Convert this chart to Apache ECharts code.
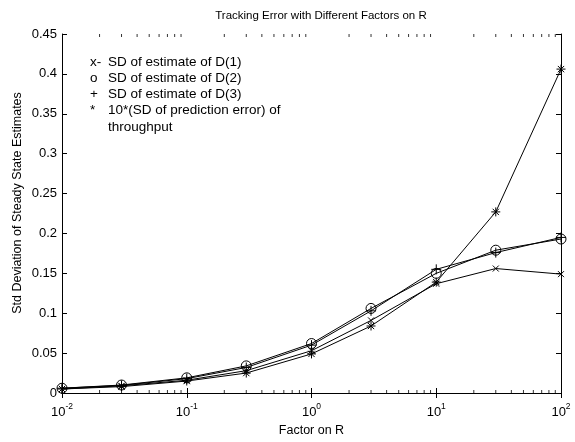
<!DOCTYPE html>
<html>
<head>
<meta charset="utf-8">
<script src="https://cdn.jsdelivr.net/npm/echarts@6/dist/echarts.min.js"></script>
<style>
  html, body { margin: 0; padding: 0; background: #fff; }
  #chart { width: 575px; height: 442px; }
</style>
</head>
<body>
<div id="chart"></div>
<script>
const factors = [0.01, 0.03, 0.1, 0.3, 1, 3, 10, 30, 100];
const sdD1 = [0.005, 0.009, 0.016, 0.028, 0.053, 0.091, 0.137, 0.156, 0.149];
const sdD2 = [0.006, 0.010, 0.019, 0.034, 0.062, 0.106, 0.150, 0.179, 0.193];
const sdD3 = [0.006, 0.0095, 0.018, 0.032, 0.060, 0.103, 0.155, 0.176, 0.195];
const sdThroughput = [0.005, 0.008, 0.015, 0.025, 0.049, 0.084, 0.139, 0.227, 0.406];
const legendLines = [
  ['x-', 'SD of estimate of D(1)'],
  ['o', 'SD of estimate of D(2)'],
  ['+', 'SD of estimate of D(3)'],
  ['*', '10*(SD of prediction error) of'],
  ['', 'throughput']
];
// minor log ticks 2..9 per decade
const minorTicks = [];
for (let e = -2; e < 2; e++) {
  for (let m = 2; m <= 9; m++) minorTicks.push(+(m * Math.pow(10, e)).toPrecision(3));
}

const FONT = 'Liberation Sans, Arial, sans-serif';
const chart = echarts.init(document.getElementById('chart'));

const pair = (ys) => factors.map((x, i) => [x, ys[i]]);
const lineSeries = (name, ys, symbol, size) => ({
  name, type: 'line', data: pair(ys), symbol, symbolSize: size,
  lineStyle: { color: '#000', width: 1 },
  itemStyle: { color: 'none', borderColor: '#000', borderWidth: 1 },
  emphasis: { disabled: true },
  animation: false
});

const xAxisBase = {
  type: 'log', min: 0.01, max: 100, logBase: 10,
  axisLine: { show: true, lineStyle: { color: '#000', width: 1 } },
  axisTick: { show: true, inside: true, length: 5, lineStyle: { color: '#000' } },
  splitLine: { show: false }
};
const yAxisBase = {
  type: 'value', min: 0, max: 0.45, interval: 0.05,
  axisLine: { show: true, lineStyle: { color: '#000', width: 1 } },
  axisTick: { show: true, inside: true, length: 5, lineStyle: { color: '#000' } },
  splitLine: { show: false }
};

const tickScatter = (y, offset) => ({
  type: 'scatter', data: minorTicks.map(x => [x, y]), symbol: 'rect',
  symbolSize: [1, 3], symbolOffset: [0, offset], silent: true,
  itemStyle: { color: '#000' }, animation: false
});

chart.setOption({
  backgroundColor: '#fff',
  animation: false,
  title: {
    text: 'Tracking Error with Different Factors on R',
    left: 316, top: 5, textAlign: 'center',
    textStyle: { fontFamily: FONT, fontSize: 11.5, fontWeight: 'normal', color: '#000' }
  },
  grid: { left: 62, right: 14, top: 34, bottom: 45 },
  xAxis: [
    Object.assign({}, xAxisBase, {
      position: 'bottom',
      name: 'Factor on R', nameLocation: 'middle', nameGap: 31,
      nameTextStyle: { fontFamily: FONT, fontSize: 12.5, color: '#000' },
      axisLabel: {
        margin: 9,
        formatter: (v) => '{b|10}{s|' + Math.round(Math.log10(v)) + '}',
        rich: {
          b: { fontFamily: FONT, fontSize: 13, color: '#000' },
          s: { fontFamily: FONT, fontSize: 8.5, color: '#000', padding: [0, 0, 12, 0] }
        }
      }
    }),
    Object.assign({}, xAxisBase, { position: 'top', axisLabel: { show: false } })
  ],
  yAxis: [
    Object.assign({}, yAxisBase, {
      position: 'left',
      axisLabel: { fontFamily: FONT, fontSize: 13, color: '#000', margin: 5 }
    }),
    Object.assign({}, yAxisBase, { position: 'right', axisLabel: { show: false } })
  ],
  graphic: [
    { type: 'text', x: 18, y: 203, rotation: Math.PI / 2,
      style: { text: 'Std Deviation of Steady State Estimates', font: '12.5px ' + FONT,
        fill: '#000', align: 'center', verticalAlign: 'middle' } }
  ].concat(legendLines.flatMap((l, i) => [
    { type: 'text', left: 90, top: 55 + i * 16.2,
      style: { text: l[0], font: '13.5px ' + FONT, fill: '#000' } },
    { type: 'text', left: 108, top: 55 + i * 16.2,
      style: { text: l[1], font: '13.5px ' + FONT, fill: '#000' } }
  ])),
  series: [
    lineSeries('D1', sdD1, 'path://M0,0L10,10M10,0L0,10', 6),
    lineSeries('D2', sdD2, 'circle', 10),
    lineSeries('D3', sdD3, 'path://M5,0L5,10M0,5L10,5', 10),
    lineSeries('TP', sdThroughput, 'path://M5,0L5,10M0,5L10,5M1.5,1.5L8.5,8.5M8.5,1.5L1.5,8.5', 9),
    tickScatter(0, -1.5),
    tickScatter(0.45, 1.5)
  ]
});
</script>
</body>
</html>
